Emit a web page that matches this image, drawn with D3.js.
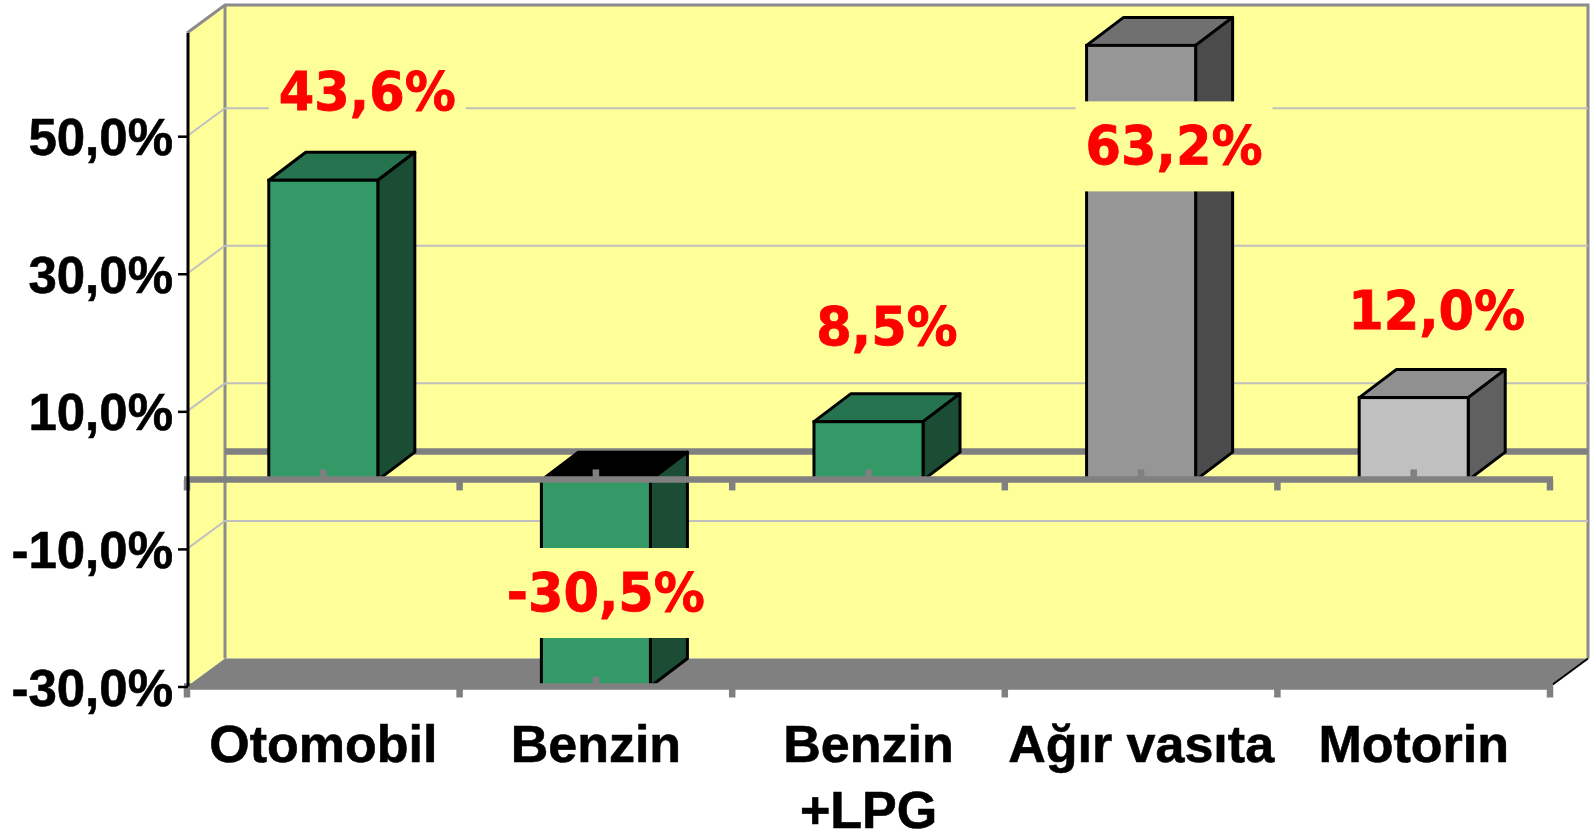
<!DOCTYPE html>
<html>
<head>
<meta charset="utf-8">
<style>
  html, body { margin: 0; padding: 0; background: #fff; overflow: hidden; }
  svg { display: block; }
</style>
<script src="https://cdn.jsdelivr.net/npm/d3@7"></script>
</head>
<body>
<div id="chart"></div>
<script>
const categories = ['Otomobil', 'Benzin', 'Benzin\n+LPG', 'Ağır vasıta', 'Motorin'];
const values = [43.6, -30.5, 8.5, 63.2, 12.0];
const yTicks = [-30, -10, 10, 30, 50];

const frontColors = ['#339966', '#339966', '#339966', '#969696', '#c0c0c0'];
const topColors = ['#267350', '#000000', '#267350', '#707070', '#909090'];
const sideColors = ['#1a4d33', '#1a4d33', '#1a4d33', '#4b4b4b', '#606060'];

// labels were placed by hand in the original, offsets from the bar end
const labelDx = [44, 10, 18.5, 33, 23];
const labelDy = [-70, -75.5, -76.5, 119, -68.4];

const width = 1596, height = 835;
const depth = {x: 38, y: -28};
const barDepthX = 37;
const wallColor = '#ffff99', floorColor = '#808080', axisGray = '#808080';

const locale = d3.formatLocale({decimal: ',', thousands: '.', grouping: [3], currency: ['', ''], minus: '-'});
const pct = v => locale.format('.1f')(v) + '%';

const svg = d3.select('#chart').append('svg')
    .attr('width', width)
    .attr('height', height)
    .attr('font-weight', 'bold');

const x = d3.scaleBand().domain(categories).range([187, 1550]).paddingInner(0.6).paddingOuter(0.3);
const y = d3.scaleLinear().domain([-30, 65]).range([686.5, 33]).clamp(true);

const poly = pts => pts.map(p => p.join(',')).join(' ');
const [xL, xR] = x.range();
const yBot = y(-30), y0 = y(0), yTop = y(65);

// walls and floor
svg.append('polygon')
    .attr('points', poly([[xL, yTop], [xL + depth.x, yTop + depth.y], [xL + depth.x, yBot + depth.y], [xL, yBot]]))
    .attr('fill', wallColor);
svg.append('rect')
    .attr('x', xL + depth.x).attr('y', yTop + depth.y)
    .attr('width', xR - xL).attr('height', yBot - yTop)
    .attr('fill', wallColor);
svg.append('polygon')
    .attr('points', poly([[xL, yBot], [xL + depth.x, yBot + depth.y], [xR + depth.x, yBot + depth.y], [xR, yBot]]))
    .attr('fill', floorColor);

// wall edges
svg.append('path')
    .attr('d', `M${xL},${yTop}L${xL + depth.x},${yTop + depth.y}L${xR + depth.x},${yTop + depth.y}L${xR + depth.x},${yBot + depth.y}`)
    .attr('fill', 'none')
    .attr('stroke', '#8c8c8c')
    .attr('stroke-width', 3);
svg.append('line')
    .attr('x1', xL + depth.x).attr('x2', xL + depth.x)
    .attr('y1', yTop + depth.y).attr('y2', yBot + depth.y)
    .attr('stroke', '#8c8c8c')
    .attr('stroke-width', 3);
svg.append('line')
    .attr('x1', xR).attr('x2', xR + depth.x)
    .attr('y1', yBot).attr('y2', yBot + depth.y)
    .attr('stroke', '#000')
    .attr('stroke-width', 2);

// gridlines
svg.append('g').selectAll('path')
    .data(yTicks.filter(t => t > -30))
    .join('path')
    .attr('d', t => `M${xL},${y(t)}L${xL + depth.x},${y(t) + depth.y}L${xR + depth.x},${y(t) + depth.y}`)
    .attr('fill', 'none')
    .attr('stroke', '#c0c0c0')
    .attr('stroke-width', 2);

// zero line on the back wall
svg.append('line')
    .attr('x1', xL + depth.x).attr('x2', xR + depth.x)
    .attr('y1', y0 + depth.y - 0.7).attr('y2', y0 + depth.y - 0.7)
    .attr('stroke', axisGray)
    .attr('stroke-width', 6.5);

// bars
const bars = svg.append('g').selectAll('g')
    .data(categories)
    .join('g');

const barLeft = d => x(d);
const barRight = d => x(d) + x.bandwidth();
const barEnd = (d, i) => y(values[i]);

bars.append('polygon')
    .attr('points', (d, i) => {
      const yA = Math.min(y0, barEnd(d, i));
      return poly([[barLeft(d), yA], [barLeft(d) + barDepthX, yA + depth.y], [barRight(d) + barDepthX, yA + depth.y], [barRight(d), yA]]);
    })
    .attr('fill', (d, i) => topColors[i])
    .attr('stroke', '#000')
    .attr('stroke-width', 3)
    .attr('stroke-linejoin', 'round');

bars.append('polygon')
    .attr('points', (d, i) => {
      const yA = Math.min(y0, barEnd(d, i)), yB = Math.max(y0, barEnd(d, i));
      return poly([[barRight(d), yA], [barRight(d) + barDepthX, yA + depth.y], [barRight(d) + barDepthX, yB + depth.y], [barRight(d), yB]]);
    })
    .attr('fill', (d, i) => sideColors[i])
    .attr('stroke', '#000')
    .attr('stroke-width', 3)
    .attr('stroke-linejoin', 'round');

bars.append('rect')
    .attr('x', barLeft)
    .attr('y', (d, i) => Math.min(y0, barEnd(d, i)))
    .attr('width', x.bandwidth())
    .attr('height', (d, i) => Math.abs(barEnd(d, i) - y0))
    .attr('fill', (d, i) => frontColors[i])
    .attr('stroke', '#000')
    .attr('stroke-width', 3);

// category axes, one on the zero line and one along the floor
function drawXAxis(yPos) {
  const g = svg.append('g');
  g.append('line')
      .attr('x1', xL - 3).attr('x2', xR + 3)
      .attr('y1', yPos).attr('y2', yPos)
      .attr('stroke', axisGray)
      .attr('stroke-width', 6.5);
  g.selectAll('.tick-down')
      .data(d3.range(categories.length + 1))
      .join('line')
      .attr('class', 'tick-down')
      .attr('x1', i => xL + i * x.step()).attr('x2', i => xL + i * x.step())
      .attr('y1', yPos).attr('y2', yPos + 11)
      .attr('stroke', axisGray)
      .attr('stroke-width', 6.5);
  g.selectAll('.tick-up')
      .data(categories)
      .join('line')
      .attr('class', 'tick-up')
      .attr('x1', d => x(d) + x.bandwidth() / 2).attr('x2', d => x(d) + x.bandwidth() / 2)
      .attr('y1', yPos).attr('y2', yPos - 10)
      .attr('stroke', axisGray)
      .attr('stroke-width', 6.5);
}
drawXAxis(y0 - 0.7);
drawXAxis(yBot);

// value axis
const yAxis = d3.axisLeft(y)
    .tickValues(yTicks)
    .tickSize(10)
    .tickPadding(5)
    .tickFormat(pct);
const yAxisG = svg.append('g')
    .attr('transform', `translate(${xL + 1},0)`)
    .call(yAxis);
yAxisG.select('.domain').remove();
yAxisG.selectAll('.tick line').attr('stroke', '#000').attr('stroke-width', 2.5);
yAxisG.selectAll('.tick text')
    .attr('dy', 18.5)
    .attr('fill', '#000')
    .attr('stroke', '#000')
    .attr('stroke-width', 0.6)
    .attr('font-family', '"Liberation Sans", Arial, sans-serif')
    .attr('font-size', 51);

svg.append('line')
    .attr('x1', xL + 1).attr('x2', xL + 1)
    .attr('y1', yTop).attr('y2', yBot)
    .attr('stroke', '#000')
    .attr('stroke-width', 3);

// category labels
const catLabels = svg.append('g')
    .attr('text-anchor', 'middle')
    .attr('font-family', '"Liberation Sans", Arial, sans-serif')
    .attr('font-size', 52)
    .attr('fill', '#000')
    .attr('stroke', '#000')
    .attr('stroke-width', 0.6);
catLabels.selectAll('text')
    .data(categories)
    .join('text')
    .attr('transform', d => `translate(${x(d) + x.bandwidth() / 2},761.5)`)
    .each(function (d) {
      d3.select(this).selectAll('tspan')
          .data(d.split('\n'))
          .join('tspan')
          .attr('x', 0)
          .attr('y', (line, i) => i * 66)
          .text(line => line);
    });

// value labels sit on a wall coloured box, which hides what is behind them
const labels = svg.append('g').selectAll('g')
    .data(categories)
    .join('g')
    .attr('transform', (d, i) =>
        `translate(${x(d) + x.bandwidth() / 2 + labelDx[i]},${barEnd(d, i) + labelDy[i]})`);

labels.append('rect')
    .attr('y', -63)
    .attr('height', 90)
    .attr('fill', wallColor);

labels.append('text')
    .attr('text-anchor', 'middle')
    .attr('font-family', '"DejaVu Sans", Verdana, sans-serif')
    .attr('font-size', 54)
    .attr('transform', 'scale(0.945,1)')
    .attr('fill', '#ff0000')
    .attr('stroke', '#ff0000')
    .attr('stroke-width', 0.8)
    .text((d, i) => pct(values[i]));

labels.each(function () {
  const g = d3.select(this);
  const w = g.select('text').node().getComputedTextLength() * 0.945 + 20;
  g.select('rect').attr('x', -w / 2).attr('width', w);
});
</script>
</body>
</html>
